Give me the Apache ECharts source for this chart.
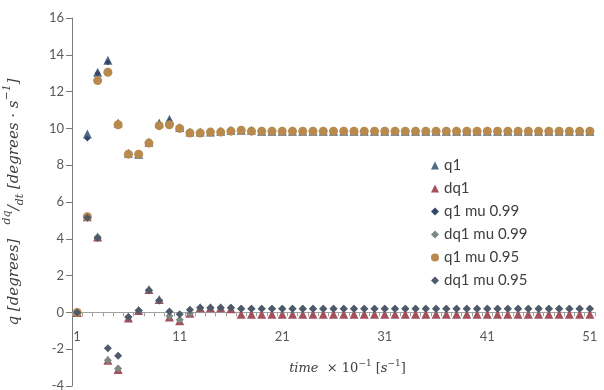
<!DOCTYPE html>
<html>
<head>
<meta charset="utf-8">
<script src="https://cdn.jsdelivr.net/npm/echarts@6/dist/echarts.min.js"></script>
<style>
  html, body { margin: 0; padding: 0; background: #fff; }
  #chart { width: 604px; height: 390px; }
</style>
</head>
<body>
<div id="chart"></div>
<script>
// time steps 1..51
const steps = Array.from({ length: 51 }, (_, i) => String(i + 1));

const q1 = [0, 9.7, 13.05, 13.7, 10.3, 8.65, 8.6, 9.25, 10.3, 10.5, 10.05, 9.8, 9.8, 9.8, 9.85, 9.9, 9.9, 9.9,
  9.85, 9.85, 9.85, 9.85, 9.85, 9.85, 9.85, 9.85, 9.85, 9.85, 9.85, 9.85, 9.85, 9.85, 9.85, 9.85, 9.85,
  9.85, 9.85, 9.85, 9.85, 9.85, 9.85, 9.85, 9.85, 9.85, 9.85, 9.85, 9.85, 9.85, 9.85, 9.85, 9.85];
const dq1 = [0, 5.2, 4.1, -2.6, -3.1, -0.3, 0.1, 1.25, 0.7, -0.25, -0.45, -0.05, 0.25, 0.25, 0.25, 0.2, -0.1,
  -0.1, -0.1, -0.1, -0.1, -0.1, -0.1, -0.1, -0.1, -0.1, -0.1, -0.1, -0.1, -0.1, -0.1, -0.1, -0.1,
  -0.1, -0.1, -0.1, -0.1, -0.1, -0.1, -0.1, -0.1, -0.1, -0.1, -0.1, -0.1, -0.1, -0.1, -0.1, -0.1, -0.1, -0.1];
const q1mu99 = [0, 9.45, 13.0, 13.6, 10.25, 8.55, 8.5, 9.25, 10.2, 10.4, 10.0, 9.8, 9.8, 9.8, 9.85, 9.9, 9.9, 9.9,
  9.85, 9.85, 9.85, 9.85, 9.85, 9.85, 9.85, 9.85, 9.85, 9.85, 9.85, 9.85, 9.85, 9.85, 9.85, 9.85, 9.85,
  9.85, 9.85, 9.85, 9.85, 9.85, 9.85, 9.85, 9.85, 9.85, 9.85, 9.85, 9.85, 9.85, 9.85, 9.85, 9.85];
const dq1mu99 = [0, 5.2, 4.1, -2.6, -3.05, -0.25, 0.1, 1.2, 0.65, -0.2, -0.4, -0.05, 0.25, 0.25, 0.25, 0.25, 0.2,
  0.2, 0.2, 0.2, 0.2, 0.2, 0.2, 0.2, 0.2, 0.2, 0.2, 0.2, 0.2, 0.2, 0.2, 0.2, 0.2,
  0.2, 0.2, 0.2, 0.2, 0.2, 0.2, 0.2, 0.2, 0.2, 0.2, 0.2, 0.2, 0.2, 0.2, 0.2, 0.2, 0.2, 0.2];
const q1mu95 = [0, 5.2, 12.6, 13.05, 10.2, 8.6, 8.6, 9.2, 10.15, 10.2, 10.0, 9.75, 9.75, 9.8, 9.8, 9.85, 9.9, 9.85,
  9.85, 9.85, 9.85, 9.85, 9.85, 9.85, 9.85, 9.85, 9.85, 9.85, 9.85, 9.85, 9.85, 9.85, 9.85, 9.85, 9.85,
  9.85, 9.85, 9.85, 9.85, 9.85, 9.85, 9.85, 9.85, 9.85, 9.85, 9.85, 9.85, 9.85, 9.85, 9.85, 9.85];
const dq1mu95 = [0, 5.15, 4.05, -1.95, -2.35, -0.25, 0.1, 1.2, 0.65, 0.05, -0.1, 0.15, 0.25, 0.25, 0.25, 0.25, 0.2,
  0.2, 0.2, 0.2, 0.2, 0.2, 0.2, 0.2, 0.2, 0.2, 0.2, 0.2, 0.2, 0.2, 0.2, 0.2, 0.2,
  0.2, 0.2, 0.2, 0.2, 0.2, 0.2, 0.2, 0.2, 0.2, 0.2, 0.2, 0.2, 0.2, 0.2, 0.2, 0.2, 0.2, 0.2];

const chart = echarts.init(document.getElementById('chart'));

const labelFont = 'Lato, "Open Sans", sans-serif';
const mathFont = '"DejaVu Serif", serif';

// plot box; the x axis sits on y = 0, which is 4/20 of the height above the bottom
const gridTop = 18, gridBottom = 4, chartH = 390;
const zeroOffset = (chartH - gridTop - gridBottom) * 4 / 20;

function scatter(name, data, symbol, size, color) {
  return {
    name: name,
    type: 'scatter',
    data: data,
    symbol: symbol,
    symbolSize: size,
    itemStyle: { color: color, opacity: 1 },
    emphasis: { disabled: true }
  };
}

const option = {
  animation: false,
  backgroundColor: '#ffffff',
  grid: { left: 72, right: 9, top: gridTop, bottom: gridBottom, containLabel: false, outerBoundsMode: 'none' },
  legend: {
    orient: 'vertical',
    left: 426,
    top: 153,
    itemGap: 8,
    itemWidth: 8,
    itemHeight: 8,
    textStyle: { fontFamily: labelFont, fontSize: 15, color: '#404040' },
    data: ['q1', 'dq1', 'q1 mu 0.99', 'dq1 mu 0.99', 'q1 mu 0.95', 'dq1 mu 0.95']
  },
  xAxis: {
    type: 'category',
    data: steps,
    boundaryGap: true,
    position: 'bottom',
    offset: -zeroOffset,
    axisLine: { onZero: false, lineStyle: { color: '#a0a0a0', width: 1 } },
    axisTick: { show: true, interval: 0, length: 4, lineStyle: { color: '#a0a0a0' } },
    axisLabel: { interval: 9, margin: 18, fontFamily: labelFont, fontSize: 13, color: '#595959' },
    splitLine: { show: false },
    name: '{i|time}  × 10{s|−1} [{i|s}{s|−1}]',
    nameLocation: 'middle',
    nameGap: 47,
    nameTextStyle: {
      fontFamily: mathFont,
      fontSize: 13,
      color: '#404040',
      padding: [0, 0, 0, 28],
      rich: {
        i: { fontFamily: mathFont, fontStyle: 'italic', fontSize: 13, color: '#404040' },
        s: { fontFamily: mathFont, fontSize: 9, color: '#404040', verticalAlign: 'top', lineHeight: 18 }
      }
    }
  },
  yAxis: {
    type: 'value',
    min: -4,
    max: 16,
    interval: 2,
    axisLine: { show: true, lineStyle: { color: '#7a7a7a', width: 1 } },
    axisTick: { show: true, length: 6, lineStyle: { color: '#7a7a7a' } },
    axisLabel: { margin: 8, fontFamily: labelFont, fontSize: 13, color: '#595959' },
    splitLine: { show: false },
    name: '{i|q [degrees]}   {s|dq}{i|/}{b|dt} {i|[degrees · s}{s|−1}{i|]}',
    nameLocation: 'middle',
    nameGap: 46,
    nameTextStyle: {
      fontFamily: mathFont,
      fontSize: 15,
      color: '#404040',
      rich: {
        i: { fontFamily: mathFont, fontStyle: 'italic', fontSize: 15, color: '#404040', lineHeight: 24 },
        s: { fontFamily: mathFont, fontStyle: 'italic', fontSize: 11, color: '#404040', verticalAlign: 'top', lineHeight: 24 },
        b: { fontFamily: mathFont, fontStyle: 'italic', fontSize: 11, color: '#404040', verticalAlign: 'bottom', lineHeight: 24 }
      }
    }
  },
  series: [
    scatter('q1', q1, 'triangle', 9, '#4d6b87'),
    scatter('dq1', dq1, 'triangle', 9, '#a3505c'),
    scatter('q1 mu 0.99', q1mu99, 'diamond', 6, '#34466a'),
    scatter('dq1 mu 0.99', dq1mu99, 'diamond', 8, '#7b8a7e'),
    scatter('q1 mu 0.95', q1mu95, 'circle', 9, '#b88a4e'),
    scatter('dq1 mu 0.95', dq1mu95, 'diamond', 8, '#4e5a6a')
  ]
};

chart.setOption(option);
</script>
</body>
</html>
